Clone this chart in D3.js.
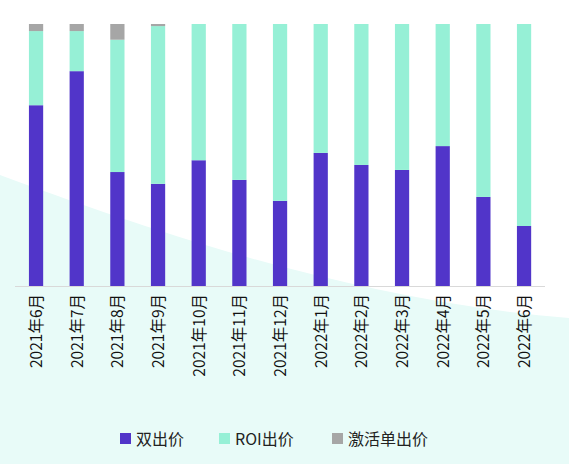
<!DOCTYPE html><html><head><meta charset="utf-8"><script src="https://d3js.org/d3.v7.min.js"></script>
<style>body{margin:0;background:#fff}svg{font-family:"Noto Sans CJK SC","Noto Sans",sans-serif}</style></head><body>
<svg id="c" width="569" height="464"></svg>
<script>
const categories=["2021年6月","2021年7月","2021年8月","2021年9月","2021年10月","2021年11月","2021年12月","2022年1月","2022年2月","2022年3月","2022年4月","2022年5月","2022年6月"];
const dual=[0.69,0.82,0.435,0.39,0.48,0.405,0.325,0.508,0.462,0.443,0.534,0.34,0.229];
const roi=[0.283,0.153,0.505,0.602,0.52,0.595,0.675,0.492,0.538,0.557,0.466,0.66,0.771];
const act=[0.027,0.027,0.06,0.008,0,0,0,0,0,0,0,0,0];
const seriesNames=["双出价","ROI出价","激活单出价"];
const colors=["#5135c9","#96f0d6","#a6a6a6"];
const svg=d3.select("#c");
svg.append("path").attr("d","M0,175 C150,230 350,300 569,318 L569,464 L0,464Z").attr("fill","#e8fbf8");
const x=d3.scaleBand().domain(categories).range([2.5,557.6]).padding(0.65);
const y=d3.scaleLinear().domain([0,1]).range([286,24]);
const data=categories.map((c,i)=>({c,s0:dual[i],s1:roi[i],s2:act[i]}));
const stack=d3.stack().keys(["s0","s1","s2"])(data);
svg.selectAll("g.s").data(stack).join("g").attr("fill",(d,i)=>colors[i])
 .selectAll("rect").data(d=>d).join("rect").attr("x",d=>x(d.data.c)).attr("width",x.bandwidth())
 .attr("y",d=>y(d[1])).attr("height",d=>y(d[0])-y(d[1]));
svg.append("line").attr("x1",15).attr("x2",545).attr("y1",286.5).attr("y2",286.5).attr("stroke","#d9d9d9");
categories.forEach(c=>{svg.append("text").attr("transform",`translate(${x(c)+x.bandwidth()/2+6},294) rotate(-90)`)
 .attr("text-anchor","end").attr("font-size",15.5).attr("fill","#111").text(c);});
const lx=[120,219,332];
seriesNames.forEach((n,i)=>{svg.append("rect").attr("x",lx[i]).attr("y",433).attr("width",11).attr("height",11).attr("fill",colors[i]);
 svg.append("text").attr("x",lx[i]+16).attr("y",445).attr("font-size",16).attr("fill","#222").text(n);});
</script></body></html>
